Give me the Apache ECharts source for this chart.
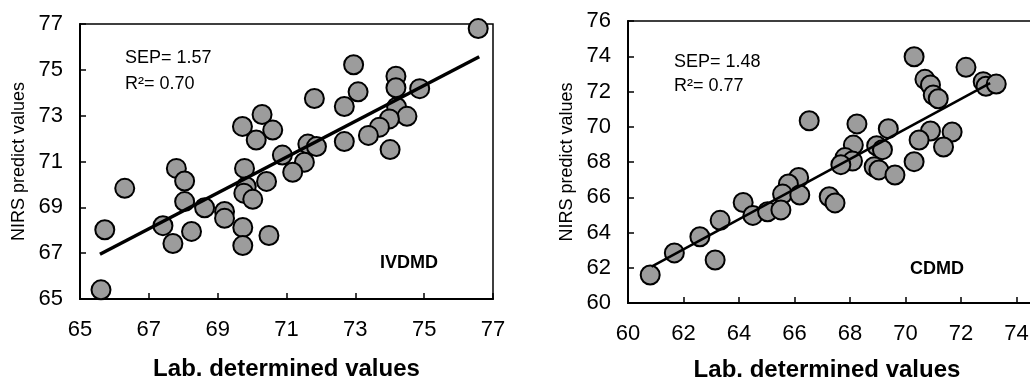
<!DOCTYPE html>
<html>
<head>
<meta charset="utf-8">
<script src="https://cdn.jsdelivr.net/npm/echarts@6.0.0/dist/echarts.min.js"></script>
<style>
html, body { margin: 0; padding: 0; background: #fff; }
#main { width: 1030px; height: 378px; }
</style>
</head>
<body>
<div id="main"></div>
<script>
// IVDMD: lab value vs NIRS prediction
var ivdmdPts = [
    [76.57, 76.80], [72.95, 75.22], [74.18, 74.72], [74.18, 74.22], [74.87, 74.18],
    [73.08, 74.04], [71.81, 73.75], [72.68, 73.40], [74.20, 73.37], [70.29, 73.05],
    [74.50, 72.97], [73.99, 72.86], [69.72, 72.53], [73.70, 72.50], [70.60, 72.37],
    [73.38, 72.14], [70.12, 71.94], [72.68, 71.87], [71.62, 71.76], [71.87, 71.65],
    [74.01, 71.52], [70.88, 71.28], [71.52, 70.97], [71.18, 70.53], [67.80, 70.70],
    [69.78, 70.70], [70.42, 70.13], [68.04, 70.15], [66.30, 69.83], [69.83, 69.90],
    [69.76, 69.62], [70.02, 69.35], [68.04, 69.25], [68.62, 68.98], [69.20, 68.82],
    [69.20, 68.52], [67.41, 68.20], [65.72, 68.02], [68.24, 67.95], [69.73, 68.12],
    [70.49, 67.77], [67.70, 67.42], [69.73, 67.33], [65.61, 65.40]
];
var ivdmdFit = [[65.58, 66.95], [76.60, 75.57]];

// CDMD
var cdmdPts = [
    [70.31, 73.97], [72.18, 73.37], [70.70, 72.69], [70.90, 72.37], [71.00, 71.80],
    [71.18, 71.59], [72.80, 72.56], [72.90, 72.30], [73.27, 72.42], [66.53, 70.34],
    [68.25, 70.16], [69.38, 69.89], [70.90, 69.76], [71.68, 69.70], [70.49, 69.25],
    [71.37, 68.85], [68.12, 68.96], [68.96, 68.92], [69.17, 68.70], [70.31, 68.02],
    [67.82, 68.25], [68.09, 68.05], [67.67, 67.85], [68.87, 67.73], [69.04, 67.55],
    [69.62, 67.26], [66.15, 67.12], [65.78, 66.75], [65.57, 66.18], [66.19, 66.13],
    [67.25, 66.03], [67.46, 65.68], [64.15, 65.70], [64.50, 64.97], [65.03, 65.18],
    [65.51, 65.28], [63.32, 64.69], [62.59, 63.76], [61.67, 62.84], [63.14, 62.44],
    [60.80, 61.59]
];
var cdmdFit = [[60.85, 62.06], [73.05, 72.47]];

var xName = 'Lab. determined values';
var yName = 'NIRS predict values';
var notes = [['SEP= 1.57', 'R\u00b2= 0.70', 'IVDMD'], ['SEP= 1.48', 'R\u00b2= 0.77', 'CDMD']];

var FONT = '"Liberation Sans", Arial, sans-serif';

function xAxis(gi, min, max, gap, pad) {
    return {
        gridIndex: gi, type: 'value', min: min, max: max, interval: 2,
        name: xName, nameLocation: 'middle', nameGap: gap, nameMoveOverlap: false,
        nameTextStyle: { fontFamily: FONT, fontWeight: 'bold', fontSize: 24, color: '#000', padding: pad },
        axisLine: { onZero: false, lineStyle: { color: '#000', width: 2 } },
        axisTick: { inside: true, length: 6, lineStyle: { color: '#000', width: 1.5 } },
        axisLabel: { margin: 20, fontSize: 22, color: '#000', fontFamily: FONT, hideOverlap: false },
        splitLine: { show: false }
    };
}
function yAxis(gi, min, max) {
    return {
        gridIndex: gi, type: 'value', min: min, max: max, interval: 2,
        name: yName, nameLocation: 'middle', nameGap: 52, nameMoveOverlap: false,
        nameTextStyle: { fontFamily: FONT, fontSize: 18, color: '#000' },
        axisLine: { onZero: false, lineStyle: { color: '#000', width: 2 } },
        axisTick: { inside: true, length: 6, lineStyle: { color: '#000', width: 1.5 } },
        axisLabel: { margin: 17, fontSize: 22, color: '#000', fontFamily: FONT, hideOverlap: false },
        splitLine: { show: false }
    };
}
function dots(i, d) {
    return {
        type: 'scatter', xAxisIndex: i, yAxisIndex: i, data: d, symbolSize: 19, z: 2,
        itemStyle: { color: '#9c9c9c', borderColor: '#000', borderWidth: 2, opacity: 1 }
    };
}
function fit(i, d, w) {
    return {
        type: 'line', xAxisIndex: i, yAxisIndex: i, data: d, symbol: 'none', z: 3,
        lineStyle: { color: '#000', width: w }
    };
}
function note(x, y, t, bold) {
    return {
        type: 'text', left: x, top: y, z: 10,
        style: { text: t, fontFamily: FONT, fontSize: 18, fontWeight: bold ? 'bold' : 'normal', fill: '#000' }
    };
}

var myChart = echarts.init(document.getElementById('main'));
var option = {
    animation: false,
    backgroundColor: '#fff',
    grid: [
        { left: 80, top: 24, width: 413, height: 275, show: true, borderColor: '#000', borderWidth: 1.5, outerBoundsMode: 'none' },
        { left: 628, top: 21, width: 444, height: 282, show: true, borderColor: '#000', borderWidth: 1.5, outerBoundsMode: 'none' }
    ],
    xAxis: [xAxis(0, 65, 77, 58, [0, 0, 0, 0]), xAxis(1, 60, 76, 55, [0, 46, 0, 0])],
    yAxis: [yAxis(0, 65, 77), yAxis(1, 60, 76)],
    series: [
        dots(0, ivdmdPts), fit(0, ivdmdFit, 3.5),
        dots(1, cdmdPts), fit(1, cdmdFit, 2.5)
    ],
    graphic: [
        note(125, 49, notes[0][0]), note(125, 75, notes[0][1]), note(380, 254, notes[0][2], true),
        note(674, 53, notes[1][0]), note(674, 77, notes[1][1]), note(910, 260, notes[1][2], true)
    ]
};
myChart.setOption(option);
</script>
</body>
</html>
